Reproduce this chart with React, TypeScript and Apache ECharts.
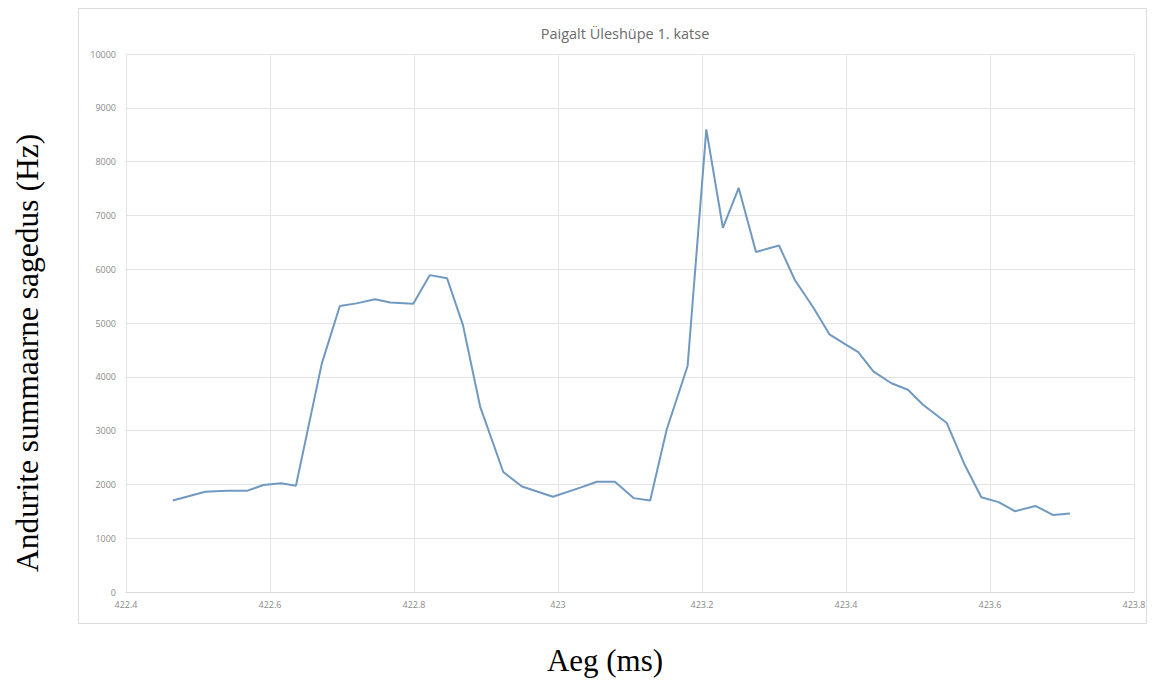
import React, { useEffect, useRef } from "react";
import * as echarts from "echarts";

const titleText = "Paigalt Üleshüpe 1. katse";
const xAxisName = "Aeg (ms)";
const yAxisName = "Andurite summaarne sagedus (Hz)";

const timeMs = [
  422.465, 422.51, 422.54, 422.568, 422.591, 422.615, 422.636, 422.672, 422.697, 422.72,
  422.746, 422.767, 422.799, 422.822, 422.846, 422.868, 422.892, 422.924, 422.95, 422.993,
  423.031, 423.054, 423.079, 423.105, 423.128, 423.151, 423.18, 423.206, 423.229, 423.251,
  423.275, 423.307, 423.329, 423.355, 423.377, 423.401, 423.417, 423.438, 423.463, 423.486,
  423.507, 423.54, 423.565, 423.588, 423.612, 423.635, 423.663, 423.688, 423.711,
];

const frequencyHz = [
  1700, 1865, 1880, 1880, 1990, 2020, 1975, 4250, 5315, 5365,
  5440, 5380, 5360, 5890, 5830, 4960, 3440, 2230, 1960, 1770,
  1940, 2050, 2050, 1745, 1700, 3020, 4200, 8600, 6770, 7510,
  6320, 6440, 5800, 5280, 4790, 4590, 4460, 4100, 3880, 3760,
  3480, 3140, 2360, 1760, 1670, 1500, 1600, 1430, 1460,
];

const xMin = 422.4;
const xMax = 423.8;
const xStep = 0.2;
const yMin = 0;
const yMax = 10000;
const yStep = 1000;

export default function App() {
  const ref = useRef<HTMLDivElement>(null);

  useEffect(() => {
    if (!ref.current) return;
    const chart = echarts.init(ref.current, null, { renderer: "svg" });
    const data = timeMs.map((t, i) => [t, frequencyHz[i]]);
    chart.setOption({
      animation: false,
      backgroundColor: "#ffffff",
      title: {
        text: titleText,
        left: 620,
        top: 21,
        textAlign: "center",
        textStyle: {
          fontFamily: "'Open Sans', sans-serif",
          fontSize: 14.5,
          fontWeight: "normal",
          color: "#6b6b6b",
        },
      },
      grid: { left: 126, right: 21, top: 54, bottom: 90 },
      xAxis: {
        type: "value",
        min: xMin,
        max: xMax,
        interval: xStep,
        axisLine: { show: true, lineStyle: { color: "#d9d9d9", width: 1 } },
        axisTick: { show: false },
        splitLine: { show: true, lineStyle: { color: "#e4e4e4", width: 1 } },
        axisLabel: {
          color: "#8a8a8a",
          fontSize: 9,
          fontFamily: "'Open Sans', sans-serif",
          margin: 8,
          formatter: (v: number) => String(Math.round(v * 10) / 10),
        },
      },
      yAxis: {
        type: "value",
        min: yMin,
        max: yMax,
        interval: yStep,
        axisLine: { show: false },
        axisTick: { show: false },
        splitLine: { show: true, lineStyle: { color: "#e4e4e4", width: 1 } },
        axisLabel: {
          color: "#8a8a8a",
          fontSize: 9,
          fontFamily: "'Open Sans', sans-serif",
          margin: 10,
          formatter: (v: number) => String(Math.round(v)),
        },
      },
      series: [
        {
          type: "line",
          data,
          showSymbol: false,
          symbol: "none",
          lineStyle: { color: "#7099c2", width: 2 },
        },
      ],
      graphic: [
        {
          type: "rect",
          shape: { x: 78.5, y: 8.5, width: 1068, height: 615 },
          style: { fill: "none", stroke: "#dcdcdc", lineWidth: 1 },
          silent: true,
          z: -1,
        },
        {
          type: "text",
          x: 605,
          y: 660,
          style: {
            text: xAxisName,
            font: "31px 'Liberation Serif', 'Times New Roman', serif",
            fill: "#000000",
            align: "center",
            verticalAlign: "middle",
          },
        },
        {
          type: "text",
          x: 27,
          y: 353,
          rotation: Math.PI / 2,
          style: {
            text: yAxisName,
            font: "31.5px 'Liberation Serif', 'Times New Roman', serif",
            fill: "#000000",
            align: "center",
            verticalAlign: "middle",
          },
        },
      ],
    });
    return () => chart.dispose();
  }, []);

  return (
    <div
      ref={ref}
      style={{ position: "fixed", left: 0, top: 0, width: 1155, height: 682 }}
    />
  );
}
